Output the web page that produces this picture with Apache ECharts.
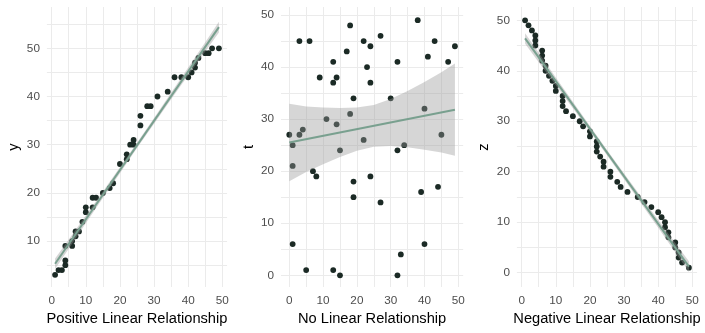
<!DOCTYPE html>
<html><head><meta charset="utf-8">
<script src="https://cdn.jsdelivr.net/npm/echarts@6/dist/echarts.min.js"></script>
<style>html,body{margin:0;padding:0;background:#fff}#c{width:705px;height:333px}</style>
</head><body><div id="c"></div>
<script>
// ---- data ----
const xTickLabels = [0, 10, 20, 30, 40, 50];
const yTickLabels1 = [10, 20, 30, 40, 50];
const yTickLabels23 = [0, 10, 20, 30, 40, 50];

// Panel 1: positive relationship
const x1 = [1,2,3,4,4,4,6,6,7,7,8,9,10,10,12,12,13,15,17,18,20,22,22,23,24,24,26,26,28,29,31,34,36,38,40,41,42,42,43,45,46,47,49];
const y1 = [3,4,4,5,6,9,9,10,11,12,12,14,16,17,17,19,19,20,21,22,26,27,28,30,30,31,34,36,38,38,40,41,44,44,44,45,46,47,48,49,49,50,50];
const fitX1 = [1, 49];
const fitY1 = [5.3, 54.4];
const bandX1 = [1, 5, 10, 15, 20, 25, 30, 35, 40, 45, 49];
const bandHi1 = [6.4, 10.34, 15.3, 20.28, 25.3, 30.4, 35.56, 40.78, 46.0, 51.25, 55.5];
const bandLo1 = [4.2, 8.44, 13.7, 18.92, 24.1, 29.3, 34.36, 39.42, 44.4, 49.35, 53.3];

// Panel 2: no relationship
const x2 = [0,1,1,1,3,3,4,5,6,7,8,9,11,13,13,13,14,14,15,15,17,18,18,19,19,19,22,22,23,24,24,24,27,27,30,32,32,32,33,34,38,39,40,40,41,43,44,45,47,49];
const t2 = [27,25,21,6,45,27,28,1,45,20,19,38,30,41,37,1,38,29,24,0,43,48,31,34,18,15,45,26,40,44,37,19,46,14,34,41,24,0,4,25,49,16,32,6,42,45,17,27,41,44];
const fitX2 = [0, 49];
const fitY2 = [25.5, 31.8];
const bandX2 = [0, 5, 10, 15, 20, 25, 30, 35, 40, 45, 49];
const bandHi2 = [32.95, 32.44, 32.24, 32.13, 32.22, 32.71, 33.86, 35.4, 37.14, 38.99, 40.7];
const bandLo2 = [18.05, 19.84, 21.34, 22.73, 23.92, 24.71, 24.86, 24.6, 24.14, 23.59, 22.95];

// Panel 3: negative relationship
const x3 = [1,2,3,4,4,4,6,6,6,7,7,8,9,10,10,12,12,12,13,15,17,18,20,20,22,22,22,23,24,24,26,26,28,29,31,34,36,38,40,41,42,42,43,43,45,45,46,46,47,49];
const z3 = [50,49,48,47,46,45,44,43,42,41,40,39,38,37,36,35,34,33,32,31,30,29,28,27,26,25,24,23,22,21,20,19,18,17,16,15,14,13,12,11,10,9,8,7,6,5,4,3,2,1];
const fitX3 = [1, 49];
const fitY3 = [46.4, 1.2];
const bandX3 = [1, 5, 10, 15, 20, 25, 30, 35, 40, 45, 49];
const bandHi3 = [47.45, 43.55, 38.69, 33.87, 29.08, 24.33, 19.66, 15.03, 10.44, 5.89, 2.25];
const bandLo3 = [45.35, 41.71, 37.15, 32.57, 27.94, 23.27, 18.52, 13.73, 8.9, 4.05, 0.15];

const xTitles = ['Positive Linear Relationship', 'No Linear Relationship', 'Negative Linear Relationship'];
const yTitles = ['y', 't', 'z'];

// ---- build chart ----
const FONT = 'Liberation Sans, Arial, sans-serif';
const pointColor = '#1b2a25';
const lineColor = '#79a08f';
const gridColor = '#ebebeb';

function every5(a, b) { const r = []; for (let v = a; v <= b; v += 5) r.push(v); return r; }

const grids = [
  {left: 46.9, width: 180.2, top: 7, height: 280},
  {left: 281.0, width: 182.2, top: 7, height: 280},
  {left: 516.9, width: 180.2, top: 7, height: 280}
];
const xRanges = [[-1.4, 51.4], [-2.45, 51.45], [-1.4, 51.4]];
const yRanges = [[0.48, 58.57], [-2.25, 51.54], [-2.83, 52.63]];
const yGridVals = [every5(5, 55), every5(0, 50), every5(0, 50)];
const yLabelVals = [yTickLabels1, yTickLabels23, yTickLabels23];

const xAxes = grids.map((g, i) => ({
  type: 'value', gridIndex: i, min: xRanges[i][0], max: xRanges[i][1],
  name: xTitles[i], nameLocation: 'middle', nameGap: 22,
  nameTextStyle: {fontSize: 14.67, color: '#000', fontFamily: FONT},
  axisLine: {show: false},
  axisTick: {show: false, customValues: every5(0, 50)},
  axisLabel: {customValues: xTickLabels, color: '#4d4d4d', fontSize: 11.73, fontFamily: FONT, margin: 8},
  splitLine: {show: true, lineStyle: {color: gridColor, width: 1}}
}));
const yAxes = grids.map((g, i) => ({
  type: 'value', gridIndex: i, min: yRanges[i][0], max: yRanges[i][1],
  name: yTitles[i], nameLocation: 'middle', nameGap: 25, nameRotate: 90,
  nameTextStyle: {fontSize: 14.67, color: '#000', fontFamily: FONT},
  axisLine: {show: false},
  axisTick: {show: false, customValues: yGridVals[i]},
  axisLabel: {customValues: yLabelVals[i], color: '#4d4d4d', fontSize: 11.73, fontFamily: FONT, margin: 7},
  splitLine: {show: true, lineStyle: {color: gridColor, width: 1}}
}));

function zip(a, b) { return a.map((v, i) => [v, b[i]]); }

function scatter(i, xs, ys) {
  return {type: 'scatter', xAxisIndex: i, yAxisIndex: i, data: zip(xs, ys), symbolSize: 5.8,
    itemStyle: {color: pointColor, opacity: 1}, z: 2, silent: true, animation: false};
}
function band(i, bx, lo, hi) {
  return {type: 'custom', xAxisIndex: i, yAxisIndex: i, z: 3, silent: true, animation: false, clip: true,
    data: [[bx[0], lo[0]]],
    renderItem: function (params, api) {
      const pts = [];
      for (let k = 0; k < bx.length; k++) pts.push(api.coord([bx[k], hi[k]]));
      for (let k = bx.length - 1; k >= 0; k--) pts.push(api.coord([bx[k], lo[k]]));
      return {type: 'polygon', shape: {points: pts}, style: {fill: 'rgba(153,153,153,0.4)'}};
    }};
}
function fit(i, fx, fy) {
  return {type: 'line', xAxisIndex: i, yAxisIndex: i, data: zip(fx, fy), showSymbol: false, z: 4,
    lineStyle: {color: lineColor, width: 2}, silent: true, animation: false};
}

const chart = echarts.init(document.getElementById('c'), null, {renderer: 'canvas'});
chart.setOption({
  backgroundColor: '#fff',
  animation: false,
  grid: grids,
  xAxis: xAxes,
  yAxis: yAxes,
  series: [
    scatter(0, x1, y1), band(0, bandX1, bandLo1, bandHi1), fit(0, fitX1, fitY1),
    scatter(1, x2, t2), band(1, bandX2, bandLo2, bandHi2), fit(1, fitX2, fitY2),
    scatter(2, x3, z3), band(2, bandX3, bandLo3, bandHi3), fit(2, fitX3, fitY3)
  ]
});
</script></body></html>
